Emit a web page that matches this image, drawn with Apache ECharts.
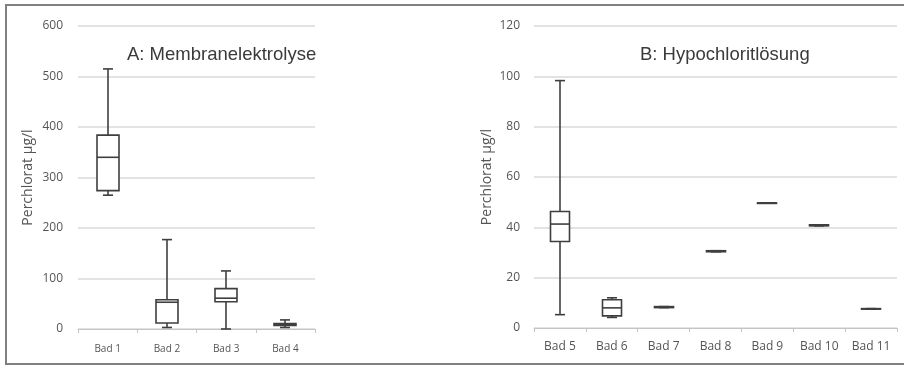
<!DOCTYPE html>
<html>
<head>
<meta charset="utf-8">
<script src="https://cdn.jsdelivr.net/npm/echarts@6/dist/echarts.min.js"></script>
<style>html,body{margin:0;padding:0;background:#fff;}#c{width:904px;height:367px;}</style>
</head>
<body>
<div id="c"></div>
<script>
// Panel A: Membranelektrolyse
const catsA = ['Bad 1', 'Bad 2', 'Bad 3', 'Bad 4'];
const minA  = [265, 3, 0, 3];
const q1A   = [274, 12, 54, 7];
const medA  = [340, 53, 61, 9];
const q3A   = [384, 58, 80, 11];
const maxA  = [515, 177, 115, 18];
const ticksA = [0, 100, 200, 300, 400, 500, 600];

// Panel B: Hypochloritlösung
const catsB = ['Bad 5', 'Bad 6', 'Bad 7', 'Bad 8', 'Bad 9', 'Bad 10', 'Bad 11'];
const minB  = [5.3, 4.2, 8.1, 30.3, 49.6, 40.6, 7.5];
const q1B   = [34.4, 4.8, 8.1, 30.3, 49.6, 40.6, 7.5];
const medB  = [41.3, 8.0, 8.3, 30.5, 49.7, 40.8, 7.6];
const q3B   = [46.3, 11.2, 8.5, 30.7, 49.7, 41.0, 7.7];
const maxB  = [98.3, 12.0, 8.5, 30.7, 49.7, 41.0, 7.7];
const ticksB = [0, 20, 40, 60, 80, 100, 120];

const titleA = 'A: Membranelektrolyse';
const titleB = 'B: Hypochloritlösung';
const yName = 'Perchlorat µg/l';

function rows(mn, q1, md, q3, mx) {
  return mn.map((v, i) => [i, v, q1[i], md[i], q3[i], mx[i]]);
}

const STROKE = '#3f3f3f';
function renderBox(params, api) {
  const x = api.value(0);
  const pMin = api.coord([x, api.value(1)]);
  const pQ1 = api.coord([x, api.value(2)]);
  const pMed = api.coord([x, api.value(3)]);
  const pQ3 = api.coord([x, api.value(4)]);
  const pMax = api.coord([x, api.value(5)]);
  const band = api.size([1, 0])[0];
  const bw = Math.round(band * 0.37);
  const cw = 10;
  const cx = Math.round(pMed[0]);
  const st = { stroke: STROKE, lineWidth: 1.6, fill: null };
  const children = [];
  children.push({ type: 'line', shape: { x1: cx, y1: pMax[1], x2: cx, y2: pQ3[1] }, style: st });
  children.push({ type: 'line', shape: { x1: cx, y1: pQ1[1], x2: cx, y2: pMin[1] }, style: st });
  children.push({ type: 'line', shape: { x1: cx - cw / 2, y1: pMax[1], x2: cx + cw / 2, y2: pMax[1] }, style: st });
  children.push({ type: 'line', shape: { x1: cx - cw / 2, y1: pMin[1], x2: cx + cw / 2, y2: pMin[1] }, style: st });
  children.push({ type: 'rect', shape: { x: cx - bw / 2, y: pQ3[1], width: bw, height: Math.max(pQ1[1] - pQ3[1], 0.5) }, style: { stroke: STROKE, lineWidth: 1.6, fill: '#fff' } });
  children.push({ type: 'line', shape: { x1: cx - bw / 2, y1: pMed[1], x2: cx + bw / 2, y2: pMed[1] }, style: st });
  return { type: 'group', children };
}

const font = '"Open Sans", "DejaVu Sans", sans-serif';
function xAxis(idx, cats, size, margin) {
  return {
    type: 'category', gridIndex: idx, data: cats, boundaryGap: true,
    axisLine: { lineStyle: { color: '#c4c4c4', width: 1 } },
    axisTick: { show: true, alignWithLabel: false, length: 4, lineStyle: { color: '#c4c4c4' } },
    axisLabel: { color: '#555', fontFamily: font, fontSize: size, margin: margin }
  };
}
function yAxis(idx, ticks, gap, margin) {
  return {
    type: 'value', gridIndex: idx, min: ticks[0], max: ticks[ticks.length - 1],
    interval: ticks[1] - ticks[0],
    name: yName, nameLocation: 'middle', nameGap: gap, nameRotate: 90,
    nameTextStyle: { color: '#555', fontFamily: font, fontSize: 14 },
    axisLine: { show: false }, axisTick: { show: false },
    axisLabel: { color: '#555', fontFamily: font, fontSize: 12, margin: margin },
    splitLine: { lineStyle: { color: '#dadada', width: 1.5 } }
  };
}

const titleFont = { fontFamily: '"Liberation Sans", Arial, sans-serif', fontSize: 18.5, fontWeight: 'normal', color: '#3a3a3a' };
const chart = echarts.init(document.getElementById('c'), null, { renderer: 'canvas' });
chart.setOption({
  animation: false,
  backgroundColor: '#fff',
  title: [
    { text: titleA, left: 122, top: 40, textStyle: titleFont },
    { text: titleB, left: 635, top: 40, textStyle: titleFont }
  ],
  grid: [
    { left: 78, right: 904 - 315, top: 26, bottom: 38 },
    { left: 534, right: 904 - 897, top: 26, bottom: 39 }
  ],
  xAxis: [xAxis(0, catsA, 10, 15), xAxis(1, catsB, 12, 13)],
  yAxis: [yAxis(0, ticksA, 43, 15), yAxis(1, ticksB, 40, 14)],
  graphic: [
    { type: 'rect', shape: { x: 6, y: 5, width: 910, height: 359 }, style: { fill: null, stroke: '#808080', lineWidth: 2 }, silent: true, z: 100 }
  ],
  series: [
    { type: 'custom', xAxisIndex: 0, yAxisIndex: 0, data: rows(minA, q1A, medA, q3A, maxA), encode: { x: 0, y: [1, 2, 3, 4, 5] }, renderItem: renderBox },
    { type: 'custom', xAxisIndex: 1, yAxisIndex: 1, data: rows(minB, q1B, medB, q3B, maxB), encode: { x: 0, y: [1, 2, 3, 4, 5] }, renderItem: renderBox }
  ]
});
</script>
</body>
</html>
